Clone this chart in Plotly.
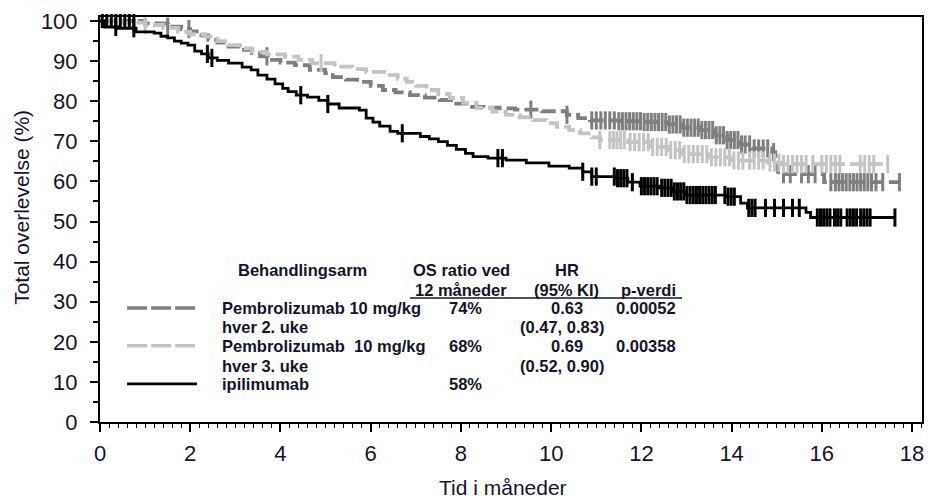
import numpy as np
import plotly.graph_objects as go

# ---------------- data ----------------
q2w_t = [0, 1.0, 1.5, 1.8, 2.0, 2.2, 2.4, 2.6, 2.85, 3.1, 3.37, 3.55, 3.72, 4.0, 4.32, 4.65, 4.99,
         5.16, 5.45, 5.7, 6.0, 6.27, 6.55, 6.87, 7.2, 7.53, 7.85, 8.13, 8.5, 8.86, 9.2, 9.8, 10.35,
         10.6, 10.86, 11.5, 12.0, 12.56, 12.9, 13.3, 13.6, 13.9, 14.2, 14.45, 14.9, 14.97, 15.03,
         16.05, 17.72]
q2w_s = [100, 99.4, 98.6, 98.0, 97.4, 96.4, 95.3, 94.6, 93.6, 92.8, 92.0, 91.2, 90.3, 89.6, 89.0,
         87.8, 87.0, 86.0, 85.4, 84.8, 83.8, 82.8, 82.2, 81.5, 80.9, 80.3, 79.4, 78.6, 78.4, 78.2,
         77.9, 77.5, 76.6, 75.8, 75.2, 75.0, 74.8, 74.2, 73.4, 72.8, 71.5, 70.3, 69.2, 68.2, 67.3,
         64.5, 61.8, 59.8, 59.8]
q2w_cens = [1.5, 1.97, 3.7, 9.55, 10.35, 10.9, 11.0, 11.1, 11.2, 11.3, 11.4, 11.5, 11.58, 11.66,
            11.74, 11.82, 11.9, 11.98, 12.06, 12.14, 12.22, 12.3, 12.38, 12.46, 12.54, 12.62, 12.7,
            12.78, 12.86, 12.94, 13.02, 13.1, 13.18, 13.26, 13.34, 13.42, 13.5, 13.58, 13.66, 13.74,
            13.82, 13.9, 13.98, 14.06, 14.14, 14.22, 14.3, 14.4, 14.5, 14.6, 14.7, 14.8, 14.93,
            15.15, 15.3, 15.55, 15.7, 15.85, 16.2, 16.3, 16.38, 16.46, 16.54, 16.62, 16.7, 16.78,
            16.86, 16.94, 17.02, 17.1, 17.2, 17.35, 17.72]

q3w_t = [0, 0.5, 1.0, 1.4, 1.73, 2.0, 2.33, 2.6, 2.84, 3.1, 3.37, 3.7, 4.1, 4.4, 4.7, 5.2, 5.6, 5.9,
         6.36, 6.6, 6.8, 7.0, 7.24, 7.5, 7.75, 8.05, 8.35, 8.7, 9.0, 9.3, 9.6, 9.9, 10.13, 10.4,
         10.64, 10.9, 11.08, 11.7, 12.19, 12.6, 12.9, 13.5, 14.0, 14.8, 15.1, 17.46]
q3w_s = [100, 99.6, 99.0, 98.3, 97.3, 96.7, 96.1, 95.0, 94.0, 93.2, 92.3, 91.7, 91.1, 90.3, 89.5,
         88.6, 88.0, 87.3, 86.5, 85.6, 84.8, 83.8, 82.8, 81.8, 80.8, 79.6, 78.3, 77.4, 76.6, 76.0,
         75.3, 74.5, 73.6, 72.8, 72.0, 71.0, 70.3, 69.8, 68.6, 67.8, 66.8, 66.0, 65.2, 64.7, 64.3,
         64.3]
q3w_cens = [1.0, 4.9, 11.08, 11.3, 11.38, 11.46, 11.54, 11.62, 11.75, 11.85, 11.95, 12.05, 12.15,
            12.25, 12.35, 12.45, 12.55, 12.65, 12.75, 12.85, 12.95, 13.05, 13.15, 13.25, 13.35,
            13.45, 13.55, 13.65, 13.75, 13.85, 13.95, 14.05, 14.15, 14.25, 14.4, 14.5, 14.6, 14.7,
            14.85, 14.95, 15.05, 15.15, 15.25, 15.35, 15.45, 15.55, 15.65, 15.8, 16.0, 16.1, 16.2,
            16.3, 16.4, 16.85, 16.95, 17.05, 17.15, 17.46]

ipi_t = [0, 0.1, 0.4, 0.8, 1.2, 1.35, 1.5, 1.65, 1.8, 1.95, 2.1, 2.25, 2.4, 2.6, 2.85, 3.15, 3.35,
         3.5, 3.7, 3.88, 4.05, 4.17, 4.35, 4.6, 4.85, 5.05, 5.3, 5.75, 5.9, 6.05, 6.2, 6.43, 6.6,
         7.1, 7.3, 7.5, 7.7, 7.9, 8.1, 8.27, 8.6, 9.0, 9.45, 9.95, 10.4, 10.7, 10.9, 11.45, 11.7,
         11.97, 12.4, 12.7, 13.0, 13.9, 14.2, 14.35, 15.65, 15.75, 17.62]
ipi_s = [100, 98.5, 98.2, 97.3, 97.0, 96.2, 95.8, 95.0, 94.5, 94.0, 92.5, 91.8, 90.8, 90.2, 89.5,
         88.5, 87.8, 86.5, 85.5, 84.3, 83.2, 82.4, 81.5, 81.0, 80.2, 79.3, 78.3, 77.8, 75.8, 74.8,
         73.8, 72.5, 72.0, 71.2, 70.6, 69.9, 69.0, 68.0, 67.0, 66.2, 65.8, 65.3, 64.6, 63.8, 63.3,
         62.4, 61.2, 60.8, 59.8, 58.8, 58.4, 57.5, 56.6, 56.2, 54.6, 53.4, 52.3, 51.0, 51.0]
ipi_cens = [0.35, 0.75, 2.38, 2.48, 4.45, 5.05, 6.7, 8.82, 8.92, 10.7, 10.9, 11.0, 11.4, 11.47,
            11.54, 11.61, 11.68, 11.8, 12.0, 12.07, 12.14, 12.21, 12.28, 12.35, 12.45, 12.52,
            12.59, 12.66, 12.73, 12.8, 12.87, 12.94, 13.01, 13.08, 13.15, 13.22, 13.29, 13.36,
            13.43, 13.5, 13.57, 13.64, 13.85, 13.92, 13.99, 14.06, 14.38, 14.45, 14.52, 14.75,
            14.95, 15.15, 15.35, 15.5, 15.9, 15.97, 16.04, 16.11, 16.18, 16.28, 16.35, 16.42,
            16.56, 16.63, 16.7, 16.77, 16.86, 16.93, 17.0, 17.07, 17.62]
top_cens_t = [0.05, 0.15, 0.25, 0.35, 0.45, 0.55, 0.65, 0.75]
top_cens_s = [100, 100, 100, 100, 100, 100, 100, 100]

x_ticks = [0, 2, 4, 6, 8, 10, 12, 14, 16, 18]
y_ticks = [0, 10, 20, 30, 40, 50, 60, 70, 80, 90, 100]

header = ["Behandlingsarm", "OS ratio ved", "12 måneder", "HR", "(95% KI)", "p-verdi"]
arm_labels = ["Pembrolizumab 10 mg/kg", "hver 2. uke", "Pembrolizumab\u00a0 10 mg/kg", "hver 3. uke", "ipilimumab"]
os12 = ["74%", "68%", "58%"]
hr = ["0.63", "0.69"]
hr_ci = ["(0.47, 0.83)", "(0.52, 0.90)"]
pvals = ["0.00052", "0.00358"]
x_title = "Tid i måneder"
y_title = "Total overlevelse (%)"

DARK = "#7f7f7f"
LIGHT = "#c4c4c4"
BLACK = "#000000"
FONT = "Arial, Liberation Sans, sans-serif"
TXT = "#141428"


def at(times, surv, tc):
    idx = np.searchsorted(np.asarray(times), np.asarray(tc), side="right") - 1
    return list(np.asarray(surv)[idx])


fig = go.Figure()
series = [
    (q2w_t, q2w_s, q2w_cens, DARK, "14px,5px", 3.8),
    (q3w_t, q3w_s, q3w_cens, LIGHT, "14px,5px", 3.8),
    (ipi_t, ipi_s, ipi_cens, BLACK, "solid", 2.8),
]
for t, s, c, col, dash, w in series:
    fig.add_trace(go.Scatter(x=t, y=s, mode="lines", line=dict(color=col, width=w, dash=dash, shape="hv"),
                             showlegend=False, hoverinfo="skip", cliponaxis=False))
    fig.add_trace(go.Scatter(x=c, y=at(t, s, c), mode="markers",
                             marker=dict(symbol="line-ns", size=13, line=dict(width=3, color=col)),
                             showlegend=False, hoverinfo="skip", cliponaxis=False))
fig.add_trace(go.Scatter(x=top_cens_t, y=top_cens_s, mode="markers",
                         marker=dict(symbol="line-ns", size=10, line=dict(width=3, color=BLACK)),
                         showlegend=False, hoverinfo="skip", cliponaxis=False))

# ---------------- legend table ----------------
bf = dict(family=FONT, size=16.5, color=TXT)
ann = []
def A(x, y, text, anchor="center"):
    ann.append(dict(x=x, y=y, xref="x", yref="y", text="<b>%s</b>" % text, showarrow=False,
                    xanchor=anchor, yanchor="middle", font=bf))

A(4.48, 37.9, header[0])
A(8.02, 37.9, header[1])
A(8.0, 32.9, header[2])
A(10.35, 37.9, header[3])
A(10.35, 32.9, header[4])
A(12.15, 32.9, header[5])
rows_y = [28.4, 23.7, 19.0, 14.0, 9.5]
for lab, yy in zip(arm_labels, rows_y):
    A(2.66, yy, lab, "left")
for v, yy in zip(os12, [rows_y[0], rows_y[2], rows_y[4]]):
    A(8.1, yy, v)
for v, yy in zip(hr, [rows_y[0], rows_y[2]]):
    A(10.35, yy, v)
for v, yy in zip(hr_ci, [rows_y[1], rows_y[3]]):
    A(10.25, yy, v)
for v, yy in zip(pvals, [rows_y[0], rows_y[2]]):
    A(12.1, yy, v)

axfont = dict(family=FONT, size=22, color=TXT)
titlefont = dict(family=FONT, size=21, color=TXT)
ann.append(dict(x=0.49, y=-0.162, xref="paper", yref="paper", text=x_title, showarrow=False,
                xanchor="center", yanchor="middle", font=titlefont))
ann.append(dict(x=-0.095, y=0.531, xref="paper", yref="paper", text=y_title, showarrow=False,
                xanchor="center", yanchor="middle", textangle=-90, font=titlefont))

shapes = [
    dict(type="line", xref="x", yref="y", x0=6.87, x1=12.9, y0=30.9, y1=30.9, line=dict(color=TXT, width=1.5)),
    dict(type="line", xref="x", yref="y", x0=0.6, x1=2.15, y0=28.4, y1=28.4, line=dict(color=DARK, width=3.5, dash="20px,4px")),
    dict(type="line", xref="x", yref="y", x0=0.6, x1=2.15, y0=19.0, y1=19.0, line=dict(color=LIGHT, width=3.5, dash="20px,4px")),
    dict(type="line", xref="x", yref="y", x0=0.6, x1=2.15, y0=9.5, y1=9.5, line=dict(color=BLACK, width=2.8)),
]

fig.update_layout(
    width=943, height=501,
    margin=dict(l=100, r=21, t=17, b=79, autoexpand=False),
    paper_bgcolor="white", plot_bgcolor="white",
    annotations=ann, shapes=shapes,
    xaxis=dict(range=[0, 18.22], tickmode="array", tickvals=x_ticks, ticks="outside", ticklen=8,
               tickwidth=2, tickcolor="black", showline=True, linewidth=2, linecolor="black",
               mirror=True, showgrid=False, zeroline=False, tickfont=axfont, automargin=False,
               ticklabelstandoff=3,
               minor=dict(dtick=0.2, tick0=0, ticks="outside", ticklen=4, tickwidth=1, tickcolor="black", showgrid=False)),
    yaxis=dict(range=[0, 101], tickmode="array", tickvals=y_ticks, ticks="outside", ticklen=8,
               tickwidth=2, tickcolor="black", showline=True, linewidth=2, linecolor="black",
               mirror=True, showgrid=False, zeroline=False, tickfont=axfont, automargin=False,
               ticklabelstandoff=8,
               minor=dict(dtick=5, tick0=0, ticks="outside", ticklen=5, tickwidth=1.5, tickcolor="black", showgrid=False)),
)
fig.write_html("out.html", config={"displayModeBar": False},
               post_script="document.body.style.margin='0';document.body.style.overflow='hidden';")
